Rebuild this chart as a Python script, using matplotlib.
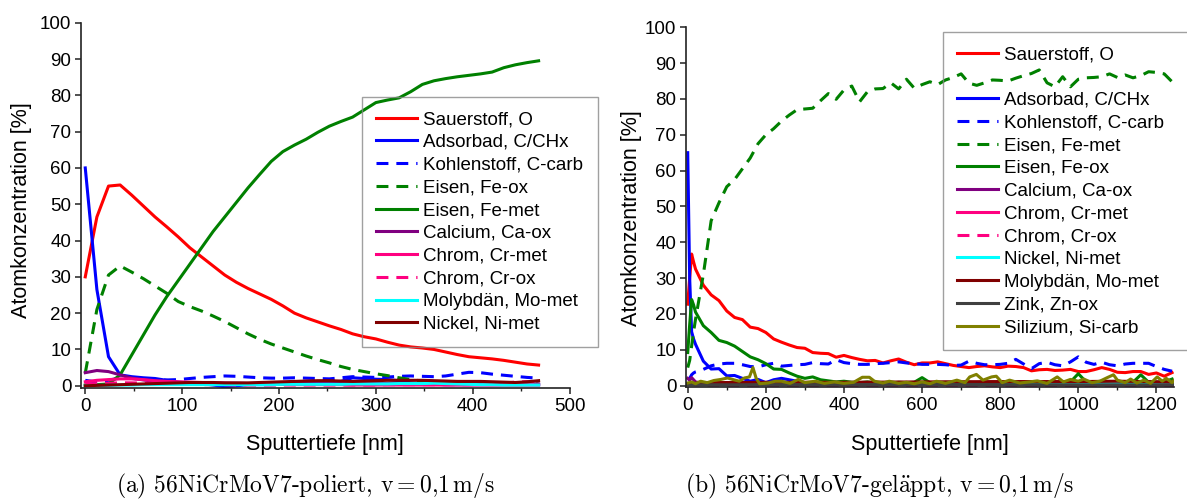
import numpy as np
import matplotlib
matplotlib.use("Agg")
import matplotlib.pyplot as plt
from matplotlib.lines import Line2D
from matplotlib.ticker import MultipleLocator

plt.rcParams['font.family'] = ['Liberation Sans', 'DejaVu Sans']
plt.rcParams['mathtext.fontset'] = 'cm'

# ---------------- (a) polished sample ----------------
depth_a = np.arange(0, 469, 12)  # nm

o_a = [30, 46.5, 55, 55.3, 52.5, 49.5, 46.5, 43.8, 41, 38, 35.5, 33, 30.5, 28.5,
       26.8, 25.3, 23.8, 22, 20, 18.7, 17.6, 16.5, 15.5, 14.3, 13.5, 12.9, 12,
       11.2, 10.7, 10.4, 10, 9.3, 8.6, 8, 7.7, 7.4, 7, 6.5, 6, 5.7]
c_chx_a = [60, 26.5, 8, 3, 2.5, 2.2, 2, 1.5, 1, 0.8, 0.6, 0.2, -0.3, 0, 0.3, 0.3,
           0.3, 0.4, 0.5, 0.6, 0.8, 1, 1.2, 2.2, 2, 1.8, 1.7, 1.4, 0.8, 0.5, 0.4,
           0.3, 0.3, 0.3, 0.3, 0.3, 0.3, 0.3, 0.3, 0.3]
c_carb_a = [1.5, 1, 1.5, 2.2, 2, 1.8, 1.6, 1.6, 1.7, 2, 2.3, 2.5, 2.7, 2.6, 2.4,
            2.2, 2.1, 2.1, 2.2, 2.1, 2, 1.9, 2.2, 2.5, 2.4, 2.3, 2.4, 2.6, 2.7,
            2.6, 2.5, 2.7, 3.2, 3.7, 3.6, 3.2, 2.9, 2.6, 2.3, 2.1]
fe_ox_a = [3.5, 21, 30.5, 33, 31.3, 29.5, 27.5, 25.5, 23.2, 21.8, 20.6, 19.2,
           17.7, 16, 14.3, 12.8, 11.5, 10.4, 9.3, 8.2, 7.2, 6.3, 5.3, 4.5, 3.9,
           3.3, 2.8, 2.2, 1.7, 1.3, 1, 0.9, 0.8, 0.7, 0.6, 0.6, 0.5, 0.5, 0.5, 0.5]
fe_met_a = [0.2, 0.3, 0.5, 3, 8.5, 14, 19.5, 24.5, 29, 33.5, 38, 42.5, 46.5, 50.5,
            54.5, 58.2, 61.8, 64.5, 66.3, 67.9, 69.8, 71.5, 72.8, 74, 76, 78,
            78.7, 79.3, 81, 83, 84, 84.6, 85.1, 85.5, 85.9, 86.4, 87.6, 88.4, 89, 89.5]
ca_ox_a = [3.6, 4.2, 3.9, 3, 2.1, 1.6, 1.2, 1, 0.9, 0.8, 0.8, 0.7, 0.7, 0.7, 0.6,
           0.6, 0.6, 0.6, 0.6, 0.6, 0.6, 0.6, 0.6, 0.6, 0.6, 0.6, 0.6, 0.6, 0.6,
           0.6, 0.6, 0.6, 0.6, 0.6, 0.6, 0.5, 0.5, 0.5, 0.5, 0.5]
cr_met_a = [1.1, 1.5, 1.7, 1.9, 1.9, 1.7, 1.4, 1.2, 1.1, 1, 0.9, 0.8, 0.7, 0.6,
            0.5, 0.5, 0.4, 0.4, 0.3, 0.3, 0.3, 0.3, 0.3, 0.2, 0.2, 0.2, 0.2, 0.2,
            0.2, 0.2, 0.2, 0.2, 0.2, 0.2, 0.2, 0.2, 0.2, 0.2, 0.2, 0.2]
cr_ox_a = [0.5, 0.6, 0.7, 0.8, 0.8, 0.7, 0.6, 0.5, 0.4, 0.4, 0.3, 0.3, 0.3, 0.2,
           0.2, 0.2, 0.2, 0.2, 0.2, 0.2, 0.2, 0.2, 0.2, 0.2, 0.2, 0.2, 0.3, 0.3,
           0.3, 0.3, 0.3, 0.3, 0.3, 0.3, 0.4, 0.5, 0.7, 1.0, 1.1, 0.8]
mo_met_a = [0, 0.1, 0.1, 0.2, 0.2, 0.3, 0.3, 0.3, 0.3, 0.3, 0.3, 0.3, 0.3, 0.3,
            0.3, 0.3, 0.3, 0.4, 0.4, 0.4, 0.4, 0.4, 0.4, 0.5, 0.5, 0.5, 0.5, 0.6,
            0.6, 0.6, 0.7, 0.6, 0.5, 0.4, 0.3, 0.3, 0.2, 0.2, 0.2, 0.2]
ni_met_a = [0, 0.1, 0.2, 0.3, 0.4, 0.5, 0.6, 0.7, 0.8, 0.9, 0.9, 0.9, 0.8, 0.8,
            0.8, 0.9, 1, 1.1, 1.2, 1.3, 1.4, 1.4, 1.3, 1.2, 1.3, 1.4, 1.5, 1.5,
            1.5, 1.5, 1.4, 1.3, 1.2, 1.2, 1.2, 1.1, 1, 0.9, 1.1, 1.4]

# ---------------- (b) lapped sample ----------------
depth_b = [0, 5, 10, 15] + list(range(20, 1241, 20))  # nm

o_b = [22.7, 30, 36.7, 34.5, 32.5, 28, 25.3, 23.7, 20.8, 19, 18.4, 16.3, 15.9,
       14.8, 13, 12.1, 11.3, 10.6, 10.4, 9.2, 9, 8.9, 7.9, 8.4, 7.8, 7.3, 6.9, 7,
       6.3, 6.9, 7.4, 6.5, 5.8, 6.3, 6.3, 6.6, 6.1, 5.6, 5.3, 5, 5.3, 5.5, 5.2, 5,
       5.4, 5.3, 5, 4.1, 4.4, 4.5, 4.2, 4.3, 4.5, 3.9, 3.9, 4.4, 5, 4.5, 3.7, 3.6,
       3.9, 3.9, 3.1, 3.5, 2.6, 3.6]
c_chx_b = [65, 30, 15, 13, 11.5, 6.8, 4.6, 4.7, 2.7, 2.8, 2, 1.2, 1.7, 0.8, 1.6,
           2, 1.6, 1.2, 0.8, 0.6, 0.5, 0.5, 0.4, 0.4, 0.4, 0.4, 0.4, 0.4, 0.4, 0.4,
           0.4, 0.4, 0.4, 0.4, 0.4, 0.4, 0.4, 0.4, 0.4, 0.4, 0.4, 0.4, 0.4, 0.4,
           0.4, 0.4, 0.4, 0.4, 0.4, 0.4, 0.4, 0.4, 0.4, 0.3, 0.3, 0.3, 0.3, 0.3,
           0.3, 0.3, 0.3, 0.3, 0.3, 0.3, 0.3, 0.3]
c_carb_b = [1.5, 2, 3, 3.5, 3.8, 4.5, 5.5, 6, 6.2, 6.2, 5.8, 5.3, 5.2, 5.8, 6.2,
            5.4, 5.6, 5.8, 5.9, 6.4, 6.1, 6, 7.2, 6.4, 6.1, 5.9, 5.9, 6.1, 6.2,
            6.4, 6.6, 6.3, 6.1, 5.9, 5.9, 5.9, 5.8, 5.6, 5.7, 6.8, 6.2, 5.8, 5.8,
            5.9, 6.2, 7.3, 6, 4.7, 6.1, 6.5, 5.8, 5.5, 6.6, 8, 6.5, 5.9, 6.5, 5.8,
            5.5, 6, 6.2, 6.2, 6.2, 5.3, 4.5, 4]
fe_met_b = [5, 7, 11, 15, 18.5, 31, 46, 51, 55.5, 57.5, 60.5, 63.5, 67.5, 70,
            71.7, 73.8, 75.5, 77, 77.2, 77.4, 79.5, 81.5, 79.9, 82.5, 83.6, 79.2,
            82, 82.8, 82.9, 84.5, 82.8, 85.5, 83, 84, 84.8, 84, 85.3, 86, 87, 84.4,
            83.8, 84.5, 85.3, 85.2, 85, 85.8, 86.5, 87.1, 88.1, 84.5, 83.4, 86.2,
            83.4, 85.5, 85.9, 86, 86.2, 87, 86, 86.7, 85.9, 86.5, 87.6, 87.4, 87, 84.8]
fe_ox_b = [9.2, 17, 24, 22.5, 20.5, 16.7, 14.8, 12.6, 12, 11, 9.5, 8, 7.2, 6.1,
           4.6, 4.5, 3.5, 2.6, 2, 2.4, 1.6, 1.3, 1, 1.2, 0.9, 0.8, 1, 0.7, 0.8, 0.7,
           0.9, 0.8, 0.9, 2.2, 0.8, 0.8, 0.9, 0.8, 0.8, 0.9, 0.8, 0.8, 0.9, 0.8,
           0.8, 0.9, 0.8, 0.8, 0.9, 0.8, 0.8, 0.9, 1, 3.3, 1, 0.9, 0.8, 0.9, 0.8,
           0.9, 0.9, 3, 0.9, 0.8, 1, 1.8]

ca_ox_b_x = [0, 5, 10, 20, 40, 100, 300, 600, 900, 1250]
ca_ox_b = [2, 1.5, 2.2, 1, 0.6, 0.5, 0.4, 0.3, 0.3, 0.3]
cr_met_b_x = [0, 50, 150, 400, 700, 1000, 1250]
cr_met_b = [0.3, 0.4, 0.3, 0.2, 0.2, 0.2, 0.2]
cr_ox_b_x = [0, 20, 100, 600, 1250]
cr_ox_b = [0.5, 0.2, 0.1, 0.1, 0.1]
ni_met_b_x = [0, 100, 300, 600, 900, 1000, 1100, 1250]
ni_met_b = [0.3, 0.5, 0.6, 0.5, 0.6, 0.8, 0.7, 1.0]
mo_met_b_x = [0, 50, 200, 400, 600, 800, 1000, 1100, 1250]
mo_met_b = [0.5, 0.8, 0.9, 0.9, 1.0, 1.1, 1.1, 1.2, 1.0]
zn_ox_b_x = [0, 300, 700, 1000, 1250]
zn_ox_b = [0.2, 0.2, 0.3, 0.2, 0.2]
si_carb_b_x = [0, 10, 20, 33, 50, 67, 85, 102, 118, 132, 145, 158, 167, 175, 184,
               206, 224, 240, 262, 283, 300, 326, 350, 375, 400, 425, 447, 465,
               478, 500, 516, 540, 560, 580, 600, 620, 637, 660, 689, 710, 722,
               739, 756, 778, 790, 805, 824, 850, 875, 895, 920, 946, 962, 980,
               1000, 1014, 1035, 1055, 1074, 1090, 1100, 1120, 1134, 1150, 1168,
               1185, 1202, 1215, 1225, 1240, 1250]
si_carb_b = [0.7, 1, 0.5, 1.2, 0.8, 1.4, 1.7, 2.1, 1.6, 1.2, 2.1, 2.4, 5, 2.1, 0.5,
             0.7, 1.2, 1.2, 0.6, 1.7, 0.8, 1.2, 0.6, 1, 0.6, 0.9, 2.3, 2.3, 1.2,
             0.7, 1.2, 0.6, 0.9, 0.5, 1, 0.5, 1.2, 0.6, 1.5, 0.8, 2.4, 3.1, 1.5,
             2.4, 2.6, 0.8, 1.5, 0.7, 1, 1.3, 0.6, 2.4, 1, 1.7, 1.2, 1.8, 0.8, 1.2,
             2.2, 3, 1.5, 0.8, 1.8, 0.7, 1.5, 0.6, 2.4, 1.2, 2, 0.8, 2]

RED, BLUE, GREEN = '#FF0000', '#0000FF', '#008000'
PURPLE, PINK, CYAN = '#800080', '#FF0080', '#00FFFF'
DARKRED, GREY, OLIVE = '#800000', '#404040', '#808000'
DASH = (0, (3.9, 2.6))
LW = 2.2

W, H = 1187, 504
fig = plt.figure(figsize=(W / 100, H / 100), dpi=100)


def px_axes(x0, y0, x1, y1):
    return fig.add_axes([x0 / W, 1 - y1 / H, (x1 - x0) / W, (y1 - y0) / H])


ax_a = px_axes(81, 22.7, 569.6, 388.3)
ax_b = px_axes(686, 27.3, 1174, 387.3)

series_a = [
    (o_a, RED, '-', 'Sauerstoff, O'),
    (c_chx_a, BLUE, '-', 'Adsorbad, C/CHx'),
    (c_carb_a, BLUE, DASH, 'Kohlenstoff, C-carb'),
    (fe_ox_a, GREEN, DASH, 'Eisen, Fe-ox'),
    (fe_met_a, GREEN, '-', 'Eisen, Fe-met'),
    (ca_ox_a, PURPLE, '-', 'Calcium, Ca-ox'),
    (cr_met_a, PINK, '-', 'Chrom, Cr-met'),
    (cr_ox_a, PINK, DASH, 'Chrom, Cr-ox'),
    (mo_met_a, CYAN, '-', 'Molybdän, Mo-met'),
    (ni_met_a, DARKRED, '-', 'Nickel, Ni-met'),
]
handles_a = []
for vals, col, ls, lab in series_a:
    ln, = ax_a.plot(depth_a, vals, color=col, ls=ls, lw=LW, label=lab)
    handles_a.append(ln)

series_b = [
    (depth_b, o_b, RED, '-', 'Sauerstoff, O'),
    (depth_b, c_chx_b, BLUE, '-', 'Adsorbad, C/CHx'),
    (depth_b, c_carb_b, BLUE, DASH, 'Kohlenstoff, C-carb'),
    (depth_b, fe_met_b, GREEN, DASH, 'Eisen, Fe-met'),
    (depth_b, fe_ox_b, GREEN, '-', 'Eisen, Fe-ox'),
    (ca_ox_b_x, ca_ox_b, PURPLE, '-', 'Calcium, Ca-ox'),
    (cr_met_b_x, cr_met_b, PINK, '-', 'Chrom, Cr-met'),
    (cr_ox_b_x, cr_ox_b, PINK, DASH, 'Chrom, Cr-ox'),
    (ni_met_b_x, ni_met_b, CYAN, '-', 'Nickel, Ni-met'),
    (mo_met_b_x, mo_met_b, DARKRED, '-', 'Molybdän, Mo-met'),
    (zn_ox_b_x, zn_ox_b, GREY, '-', 'Zink, Zn-ox'),
    (si_carb_b_x, si_carb_b, OLIVE, '-', 'Silizium, Si-carb'),
]
handles_b = []
for xs, vals, col, ls, lab in series_b:
    ln, = ax_b.plot(xs, vals, color=col, ls=ls, lw=LW, label=lab)
    handles_b.append(ln)

ax_a.set_xlim(-4.4, 500)
ax_a.set_ylim(-0.7, 100)
ax_b.set_xlim(-4.4, 1245)
ax_b.set_ylim(-0.5, 100)
ax_a.xaxis.set_major_locator(MultipleLocator(100))
ax_a.xaxis.set_minor_locator(MultipleLocator(50))
ax_b.xaxis.set_major_locator(MultipleLocator(200))
ax_b.xaxis.set_minor_locator(MultipleLocator(100))

for ax in (ax_a, ax_b):
    ax.yaxis.set_major_locator(MultipleLocator(10))
    for s in ('top', 'right'):
        ax.spines[s].set_visible(False)
    for s in ('left', 'bottom'):
        ax.spines[s].set_linewidth(1.2)
        ax.spines[s].set_color('#222222')
    ax.tick_params(which='major', direction='out', length=4, width=1.1,
                   labelsize=13.5, color='#222222', pad=3)
    ax.tick_params(which='minor', direction='out', length=2.5, width=1.0,
                   color='#222222')
    ax.set_xlabel('Sputtertiefe [nm]', fontsize=15.5, va='center')
    ax.set_ylabel('Atomkonzentration [%]', fontsize=15.5, va='center')

ax_a.xaxis.set_label_coords(0.5, -0.155)
ax_a.yaxis.set_label_coords(-0.121, 0.488)
ax_b.xaxis.set_label_coords(0.5, -0.160)
ax_b.yaxis.set_label_coords(-0.112, 0.47)

leg_kw = dict(loc='upper left', mode='expand', fontsize=13.5, handlelength=2.2,
              handletextpad=0.3, borderpad=0.75, frameon=True, fancybox=False,
              edgecolor='#888888', facecolor='none', borderaxespad=0,
              bbox_transform=fig.transFigure)

leg_a = ax_a.legend(handles_a, [h.get_label() for h in handles_a],
                    bbox_to_anchor=(362 / W, 1 - 97 / H, 236 / W, 0),
                    labelspacing=0.3, **leg_kw)
leg_a.get_frame().set_linewidth(1.0)

blank = Line2D([], [], color='none')
handles_b2 = [handles_b[0], blank] + handles_b[1:]
labels_b2 = [handles_b[0].get_label(), ' '] + [h.get_label() for h in handles_b[1:]]
leg_b = ax_b.legend(handles_b2, labels_b2,
                    bbox_to_anchor=(943 / W, 1 - 32 / H, 260 / W, 0),
                    labelspacing=0.3, **leg_kw)
leg_b.get_frame().set_linewidth(1.0)

cap_kw = dict(ha='center', va='center', fontsize=17, family=['cmr10', 'DejaVu Serif'])
fig.text(305 / W, 1 - 486 / H,
         r'(a) 56NiCrMoV7-poliert, $\mathrm{v}=0{,}1\,\mathrm{m/s}$', **cap_kw)
fig.text(880 / W, 1 - 486 / H,
         r'(b) 56NiCrMoV7-gel$\ddot{\mathrm{a}}$ppt, $\mathrm{v}=0{,}1\,\mathrm{m/s}$',
         **cap_kw)

fig.savefig('out.png', dpi=100)
